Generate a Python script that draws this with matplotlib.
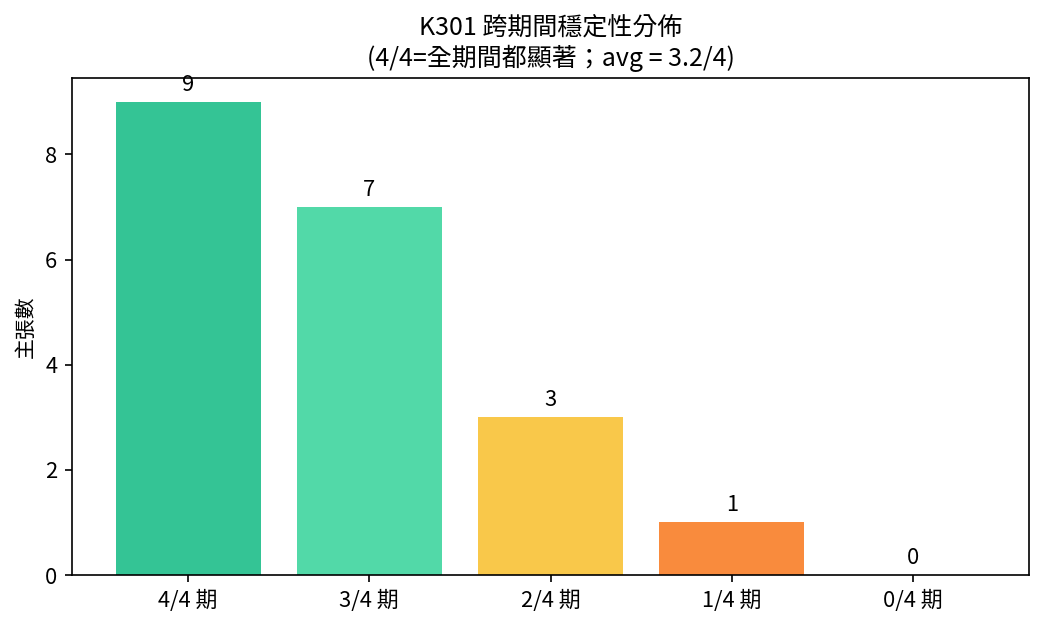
import matplotlib
matplotlib.use("Agg")
import matplotlib.pyplot as plt

plt.rcParams['font.family'] = ['Noto Sans CJK TC', 'DejaVu Sans']

categories = ["4/4 期", "3/4 期", "2/4 期", "1/4 期", "0/4 期"]
counts = [9, 7, 3, 1, 0]
colors = ["#34c495", "#52d9a8", "#f9c84a", "#f98b3d", "#e0544a"]

fig, ax = plt.subplots(figsize=(7, 4.2), dpi=150)
bars = ax.bar(categories, counts, color=colors, width=0.8)
for b, v in zip(bars, counts):
    ax.annotate(str(v), (b.get_x() + b.get_width() / 2, v),
                xytext=(0, 3), textcoords="offset points",
                ha="center", va="bottom", fontsize=10.5)

ax.set_ylim(0, max(counts) * 1.05)
ax.set_ylabel("主張數")
ax.set_title("K301 跨期間穩定性分佈\n(4/4=全期間都顯著；avg = 3.2/4)", fontsize=12)
ax.tick_params(labelsize=10.5)
fig.subplots_adjust(left=0.0686, right=0.98, top=0.876, bottom=0.0873)
fig.savefig("out.png", dpi=150)
